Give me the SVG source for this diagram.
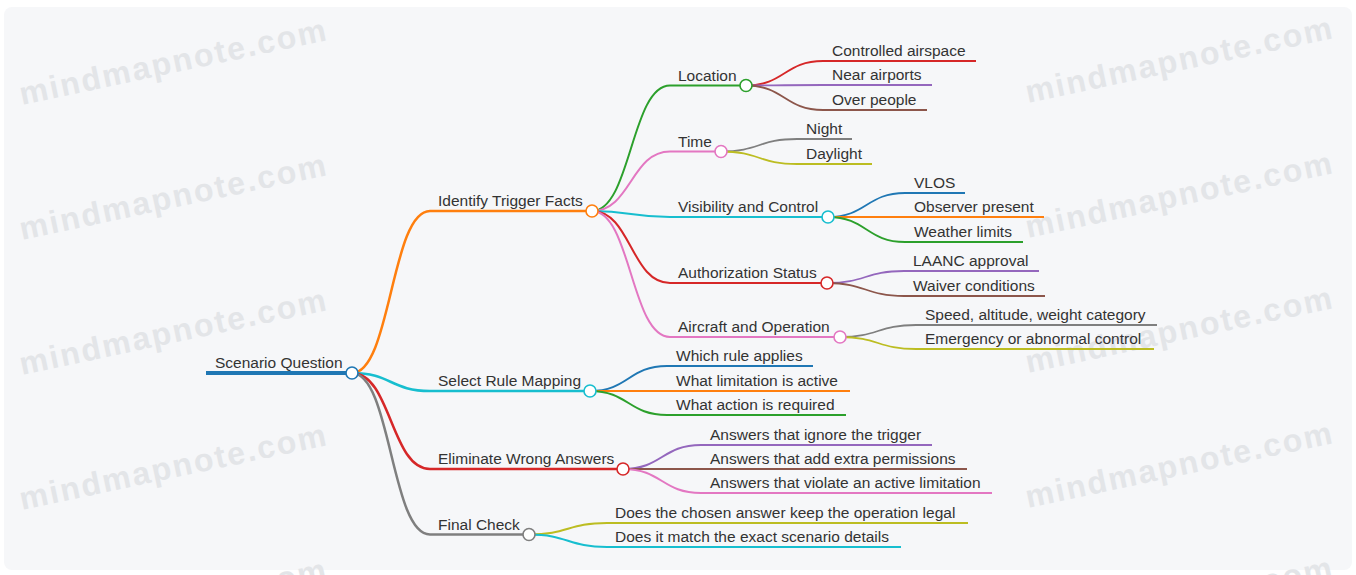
<svg xmlns="http://www.w3.org/2000/svg" width="1356" height="575" viewBox="0 0 1356 575">
<style>
.t{font-family:"Liberation Sans",Arial,sans-serif;font-size:15.5px;fill:#333}
.wm{font-family:"Liberation Sans",Arial,sans-serif;font-size:32px;font-weight:bold;fill:#e3e5e8;letter-spacing:2px}
.lk{fill:none}
.k1{stroke-width:2.5}
.k2{stroke-width:2}
.k3{stroke-width:1.8}
.c{fill:#fff;stroke-width:1.6}
</style>
<rect x="0" y="0" width="1356" height="575" fill="#ffffff"/>
<rect x="4" y="7" width="1348" height="563" rx="8" fill="#f6f7f9"/>
<g id="watermarks">
<text class="wm" transform="translate(22,105) rotate(-12)">mindmapnote.com</text>
<text class="wm" transform="translate(22,240) rotate(-12)">mindmapnote.com</text>
<text class="wm" transform="translate(22,375) rotate(-12)">mindmapnote.com</text>
<text class="wm" transform="translate(22,510) rotate(-12)">mindmapnote.com</text>
<text class="wm" transform="translate(22,645) rotate(-12)">mindmapnote.com</text>
<text class="wm" transform="translate(1028,103) rotate(-12)">mindmapnote.com</text>
<text class="wm" transform="translate(1028,238) rotate(-12)">mindmapnote.com</text>
<text class="wm" transform="translate(1028,373) rotate(-12)">mindmapnote.com</text>
<text class="wm" transform="translate(1028,508) rotate(-12)">mindmapnote.com</text>
<text class="wm" transform="translate(1028,643) rotate(-12)">mindmapnote.com</text>
</g>
<g id="connectors">
<path class="lk k1" stroke="#ff7f0e" d="M352,373C391,373 391,211 430,211"/>
<path class="lk k1" stroke="#17becf" d="M352,373C391,373 391,391 430,391"/>
<path class="lk k1" stroke="#d62728" d="M352,373C391,373 391,469 430,469"/>
<path class="lk k1" stroke="#7f7f7f" d="M352,373C391,373 391,534.5 430,534.5"/>
<path class="lk k2" stroke="#2ca02c" d="M592,211C631,211 631,85.5 670,85.5"/>
<path class="lk k2" stroke="#e377c2" d="M592,211C631,211 631,151.5 670,151.5"/>
<path class="lk k2" stroke="#17becf" d="M592,211C631,211 631,217 670,217"/>
<path class="lk k2" stroke="#d62728" d="M592,211C631,211 631,283 670,283"/>
<path class="lk k2" stroke="#e377c2" d="M592,211C631,211 631,337 670,337"/>
<path class="lk k3" stroke="#d62728" d="M746,85.5C784.5,85.5 784.5,61 823,61"/>
<path class="lk k3" stroke="#9467bd" d="M746,85.5C784.5,85.5 784.5,85 823,85"/>
<path class="lk k3" stroke="#8c564b" d="M746,85.5C784.5,85.5 784.5,110 823,110"/>
<path class="lk k3" stroke="#7f7f7f" d="M721,151.5C759,151.5 759,139 797,139"/>
<path class="lk k3" stroke="#bcbd22" d="M721,151.5C759,151.5 759,164 797,164"/>
<path class="lk k3" stroke="#1f77b4" d="M828,217C866.5,217 866.5,193 905,193"/>
<path class="lk k3" stroke="#ff7f0e" d="M828,217C866.5,217 866.5,217 905,217"/>
<path class="lk k3" stroke="#2ca02c" d="M828,217C866.5,217 866.5,242 905,242"/>
<path class="lk k3" stroke="#9467bd" d="M827,283C865.5,283 865.5,271 904,271"/>
<path class="lk k3" stroke="#8c564b" d="M827,283C865.5,283 865.5,296 904,296"/>
<path class="lk k3" stroke="#7f7f7f" d="M840,337C878,337 878,325 916,325"/>
<path class="lk k3" stroke="#bcbd22" d="M840,337C878,337 878,349 916,349"/>
<path class="lk k2" stroke="#1f77b4" d="M590,391C628.5,391 628.5,366 667,366"/>
<path class="lk k2" stroke="#ff7f0e" d="M590,391C628.5,391 628.5,391 667,391"/>
<path class="lk k2" stroke="#2ca02c" d="M590,391C628.5,391 628.5,415 667,415"/>
<path class="lk k2" stroke="#9467bd" d="M623,469C662,469 662,445 701,445"/>
<path class="lk k2" stroke="#8c564b" d="M623,469C662,469 662,469 701,469"/>
<path class="lk k2" stroke="#e377c2" d="M623,469C662,469 662,493 701,493"/>
<path class="lk k2" stroke="#bcbd22" d="M529,534.5C568,534.5 568,523 607,523"/>
<path class="lk k2" stroke="#17becf" d="M529,534.5C568,534.5 568,547 607,547"/>
</g>
<g id="n-root"><line x1="206" y1="373" x2="352" y2="373" stroke="#1f77b4" stroke-width="4"/><text class="t" x="215" y="368">Scenario Question</text><circle class="c" cx="352" cy="373" r="6" stroke="#1f77b4"/></g>
<g id="n-identify"><line x1="430" y1="211" x2="592" y2="211" stroke="#ff7f0e" stroke-width="2.5"/><text class="t" x="438" y="206">Identify Trigger Facts</text><circle class="c" cx="592" cy="211" r="6" stroke="#ff7f0e"/></g>
<g id="n-select"><line x1="430" y1="391" x2="590" y2="391" stroke="#17becf" stroke-width="2.5"/><text class="t" x="438" y="386">Select Rule Mapping</text><circle class="c" cx="590" cy="391" r="6" stroke="#17becf"/></g>
<g id="n-eliminate"><line x1="430" y1="469" x2="623" y2="469" stroke="#d62728" stroke-width="2.5"/><text class="t" x="438" y="464">Eliminate Wrong Answers</text><circle class="c" cx="623" cy="469" r="6" stroke="#d62728"/></g>
<g id="n-final"><line x1="430" y1="534.5" x2="529" y2="534.5" stroke="#7f7f7f" stroke-width="2.5"/><text class="t" x="438" y="529.5">Final Check</text><circle class="c" cx="529" cy="534.5" r="6" stroke="#7f7f7f"/></g>
<g id="n-location"><line x1="670" y1="85.5" x2="746" y2="85.5" stroke="#2ca02c" stroke-width="2"/><text class="t" x="678" y="80.5">Location</text><circle class="c" cx="746" cy="85.5" r="6" stroke="#2ca02c"/></g>
<g id="n-time"><line x1="670" y1="151.5" x2="721" y2="151.5" stroke="#e377c2" stroke-width="2"/><text class="t" x="678" y="146.5">Time</text><circle class="c" cx="721" cy="151.5" r="6" stroke="#e377c2"/></g>
<g id="n-visibility"><line x1="670" y1="217" x2="828" y2="217" stroke="#17becf" stroke-width="2"/><text class="t" x="678" y="212">Visibility and Control</text><circle class="c" cx="828" cy="217" r="6" stroke="#17becf"/></g>
<g id="n-authorization"><line x1="670" y1="283" x2="827" y2="283" stroke="#d62728" stroke-width="2"/><text class="t" x="678" y="278">Authorization Status</text><circle class="c" cx="827" cy="283" r="6" stroke="#d62728"/></g>
<g id="n-aircraft"><line x1="670" y1="337" x2="840" y2="337" stroke="#e377c2" stroke-width="2"/><text class="t" x="678" y="332">Aircraft and Operation</text><circle class="c" cx="840" cy="337" r="6" stroke="#e377c2"/></g>
<g id="n-controlled"><line x1="823" y1="61" x2="976" y2="61" stroke="#d62728" stroke-width="1.8"/><text class="t" x="832" y="56">Controlled airspace</text></g>
<g id="n-near"><line x1="823" y1="85" x2="932" y2="85" stroke="#9467bd" stroke-width="1.8"/><text class="t" x="832" y="80">Near airports</text></g>
<g id="n-over"><line x1="823" y1="110" x2="927" y2="110" stroke="#8c564b" stroke-width="1.8"/><text class="t" x="832" y="105">Over people</text></g>
<g id="n-night"><line x1="797" y1="139" x2="852" y2="139" stroke="#7f7f7f" stroke-width="1.8"/><text class="t" x="806" y="134">Night</text></g>
<g id="n-daylight"><line x1="797" y1="164" x2="872" y2="164" stroke="#bcbd22" stroke-width="1.8"/><text class="t" x="806" y="159">Daylight</text></g>
<g id="n-vlos"><line x1="905" y1="193" x2="965" y2="193" stroke="#1f77b4" stroke-width="1.8"/><text class="t" x="914" y="188">VLOS</text></g>
<g id="n-observer"><line x1="905" y1="217" x2="1044" y2="217" stroke="#ff7f0e" stroke-width="1.8"/><text class="t" x="914" y="212">Observer present</text></g>
<g id="n-weather"><line x1="905" y1="242" x2="1023" y2="242" stroke="#2ca02c" stroke-width="1.8"/><text class="t" x="914" y="237">Weather limits</text></g>
<g id="n-laanc"><line x1="904" y1="271" x2="1039" y2="271" stroke="#9467bd" stroke-width="1.8"/><text class="t" x="913" y="266">LAANC approval</text></g>
<g id="n-waiver"><line x1="904" y1="296" x2="1045" y2="296" stroke="#8c564b" stroke-width="1.8"/><text class="t" x="913" y="291">Waiver conditions</text></g>
<g id="n-speed"><line x1="916" y1="325" x2="1157" y2="325" stroke="#7f7f7f" stroke-width="1.8"/><text class="t" x="925" y="320">Speed, altitude, weight category</text></g>
<g id="n-emergency"><line x1="916" y1="349" x2="1154" y2="349" stroke="#bcbd22" stroke-width="1.8"/><text class="t" x="925" y="344">Emergency or abnormal control</text></g>
<g id="n-which"><line x1="667" y1="366" x2="813" y2="366" stroke="#1f77b4" stroke-width="2"/><text class="t" x="676" y="361">Which rule applies</text></g>
<g id="n-limitation"><line x1="667" y1="391" x2="850" y2="391" stroke="#ff7f0e" stroke-width="2"/><text class="t" x="676" y="386">What limitation is active</text></g>
<g id="n-action"><line x1="667" y1="415" x2="846" y2="415" stroke="#2ca02c" stroke-width="2"/><text class="t" x="676" y="410">What action is required</text></g>
<g id="n-ignore"><line x1="701" y1="445" x2="932" y2="445" stroke="#9467bd" stroke-width="2"/><text class="t" x="710" y="440">Answers that ignore the trigger</text></g>
<g id="n-extra"><line x1="701" y1="469" x2="967" y2="469" stroke="#8c564b" stroke-width="2"/><text class="t" x="710" y="464">Answers that add extra permissions</text></g>
<g id="n-violate"><line x1="701" y1="493" x2="992" y2="493" stroke="#e377c2" stroke-width="2"/><text class="t" x="710" y="488">Answers that violate an active limitation</text></g>
<g id="n-legal"><line x1="607" y1="523" x2="968" y2="523" stroke="#bcbd22" stroke-width="2"/><text class="t" x="615" y="518">Does the chosen answer keep the operation legal</text></g>
<g id="n-match"><line x1="607" y1="547" x2="901" y2="547" stroke="#17becf" stroke-width="2"/><text class="t" x="615" y="542">Does it match the exact scenario details</text></g>
</svg>
